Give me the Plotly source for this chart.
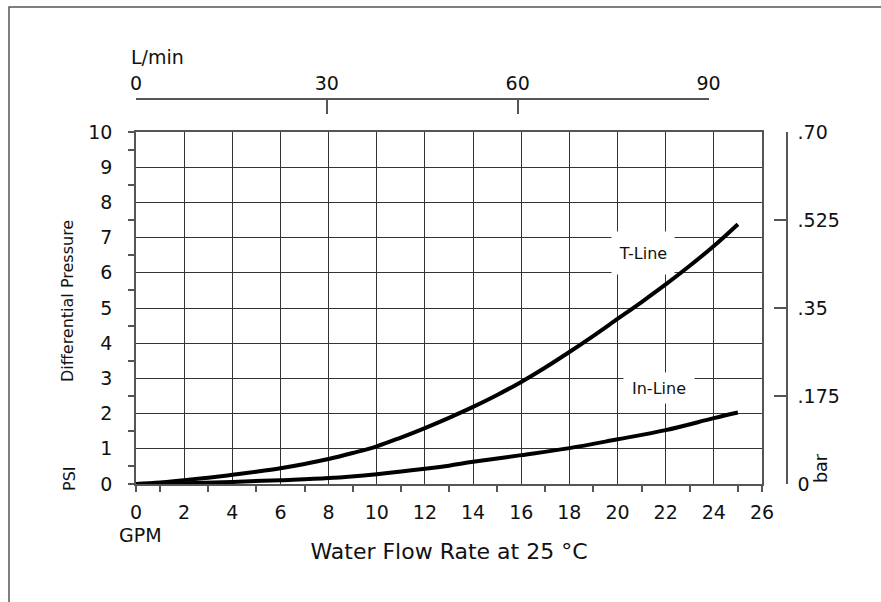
import plotly.graph_objects as go

# ---- data ----
gpm_t = [0, 1, 2, 3, 4, 5, 6, 7, 8, 9, 10, 11, 12, 13, 14, 15, 16, 17, 18, 19, 20, 21, 22, 23, 24, 25]
psi_t = [0, 0.04, 0.11, 0.18, 0.26, 0.35, 0.45, 0.57, 0.71, 0.88, 1.07, 1.32, 1.59, 1.88, 2.19, 2.53,
         2.90, 3.31, 3.75, 4.21, 4.69, 5.17, 5.67, 6.20, 6.76, 7.38]
gpm_i = [0, 2, 4, 6, 8, 10, 12, 13, 14, 16, 18, 20, 22, 24, 25]
psi_i = [0, 0.02, 0.06, 0.11, 0.17, 0.28, 0.43, 0.52, 0.63, 0.82, 1.02, 1.27, 1.53, 1.87, 2.03]

gpm_labels = list(range(0, 27, 2))
gpm_minor = [0] + list(range(1, 26, 2)) + [26]
psi_labels = list(range(0, 11))
psi_minor = [0] + [k + 0.5 for k in range(10)] + [10]
lmin_ticks = [0, 30, 60, 90]
bar_ticks = [0, 0.175, 0.35, 0.525, 0.70]
bar_text = ["0", ".175", ".35", ".525", ".70"]
LPM_PER_GPM = 3.785

FONT = "DejaVu Sans"
INK = "#111111"
GRID = "#333333"
AX = "#555555"

W, H = 881, 602
ML, MR, MT, MB = 136, 94, 99, 118
pw = W - ML - MR
ph = H - MT - MB
xdom = 626 / pw
ydom = 352 / ph
x_max = 26

fig = go.Figure()
fig.add_trace(go.Scatter(x=gpm_t, y=psi_t, mode="lines", line=dict(color="black", width=4, shape="spline"),
                         showlegend=False, hoverinfo="skip"))
fig.add_trace(go.Scatter(x=gpm_i, y=psi_i, mode="lines", line=dict(color="black", width=4, shape="spline"),
                         showlegend=False, hoverinfo="skip"))
# empty traces so that the extra axes get drawn
fig.add_trace(go.Scatter(x=[], y=[], xaxis="x2", yaxis="y3", showlegend=False, hoverinfo="skip"))
fig.add_trace(go.Scatter(x=[], y=[], xaxis="x", yaxis="y2", showlegend=False, hoverinfo="skip"))
fig.add_trace(go.Scatter(x=[], y=[], xaxis="x3", yaxis="y3", showlegend=False, hoverinfo="skip"))

tickfont = dict(family=FONT, size=19, color=INK)

fig.update_layout(
    width=W, height=H,
    margin=dict(l=ML, r=MR, t=MT, b=MB, pad=0),
    paper_bgcolor="white", plot_bgcolor="rgba(0,0,0,0)",
    font=dict(family=FONT, size=18, color=INK),
    xaxis=dict(domain=[0, xdom], range=[0, x_max], tickvals=gpm_labels, ticks="",
               showgrid=True, gridcolor=GRID, gridwidth=1.3, zeroline=False,
               showline=True, linecolor=AX, linewidth=1.5, mirror=True,
               tickfont=tickfont, ticklabelstandoff=10,
               title=dict(text="Water Flow Rate at 25 °C", font=dict(family=FONT, size=22, color=INK), standoff=22)),
    yaxis=dict(domain=[0, ydom], range=[0, 10], tickvals=psi_labels, ticks="",
               showgrid=True, gridcolor=GRID, gridwidth=1.3, zeroline=False,
               showline=True, linecolor=AX, linewidth=1.5, mirror=True,
               tickfont=tickfont, ticklabelstandoff=18),
    xaxis3=dict(overlaying="x", anchor="y", side="bottom", range=[0, x_max], tickvals=gpm_minor,
                ticks="outside", ticklen=7, tickwidth=1.5, tickcolor=AX, showticklabels=False,
                showgrid=False, zeroline=False, showline=False),
    yaxis3=dict(overlaying="y", anchor="x", side="left", range=[0, 10], tickvals=psi_minor,
                ticks="outside", ticklen=7, tickwidth=1.5, tickcolor=AX, showticklabels=False,
                showgrid=False, zeroline=False, showline=False),
    xaxis2=dict(anchor="free", position=1.0, side="top",
                domain=[0, xdom * (lmin_ticks[-1] / LPM_PER_GPM) / x_max],
                range=[0, lmin_ticks[-1]], tickvals=lmin_ticks, ticks="inside", ticklen=14,
                tickwidth=1.5, tickcolor=AX, showline=True, linecolor=AX, linewidth=1.5,
                showgrid=False, zeroline=False, tickfont=tickfont, ticklabelstandoff=1),
    yaxis2=dict(overlaying="y", anchor="free", position=1.0, side="right", range=[0, 0.7],
                tickvals=bar_ticks, ticktext=bar_text, ticks="inside", ticklen=12, tickwidth=1.5,
                tickcolor=AX, showline=True, linecolor=AX, linewidth=1.5, showgrid=False,
                zeroline=False, tickfont=tickfont, ticklabelstandoff=6),
)

def px2x(px):
    return (px - ML) / pw

def px2y(py):
    return (MT + ph - py) / ph

ann = [
    dict(text="L/min", x=px2x(129), y=px2y(57), xanchor="left", yanchor="middle", size=19),
    dict(text="GPM", x=px2x(140), y=px2y(535), xanchor="center", yanchor="middle", size=19),
    dict(text="Differential Pressure", x=px2x(67), y=px2y(301), textangle=-90, xanchor="center",
         yanchor="middle", size=16),
    dict(text="PSI", x=px2x(69), y=px2y(479), textangle=-90, xanchor="center", yanchor="middle", size=16),
    dict(text="bar", x=px2x(821), y=px2y(468), textangle=-90, xanchor="center", yanchor="middle", size=17.5),
]
for a in ann:
    size = a.pop("size")
    fig.add_annotation(xref="paper", yref="paper", showarrow=False,
                       font=dict(family=FONT, size=size, color=INK), **a)

fig.add_annotation(x=21.05, y=6.56, xref="x", yref="y", text="T-Line", showarrow=False,
                   bgcolor="white", width=62, height=42, borderpad=0,
                   font=dict(family=FONT, size=16, color=INK))
fig.add_annotation(x=21.72, y=2.73, xref="x", yref="y", text="In-Line", showarrow=False,
                   bgcolor="white", width=70, height=30, borderpad=0,
                   font=dict(family=FONT, size=16, color=INK))

# outer frame (left + top edges)
fig.add_shape(type="path", xref="paper", yref="paper",
              path=f"M {px2x(9)} {px2y(602)} L {px2x(9)} {px2y(7)} L {px2x(881)} {px2y(7)}",
              line=dict(color="#555555", width=1.5))

fig.write_html("out.html", config={"displayModeBar": False},
               post_script="document.body.style.margin='0px';")
